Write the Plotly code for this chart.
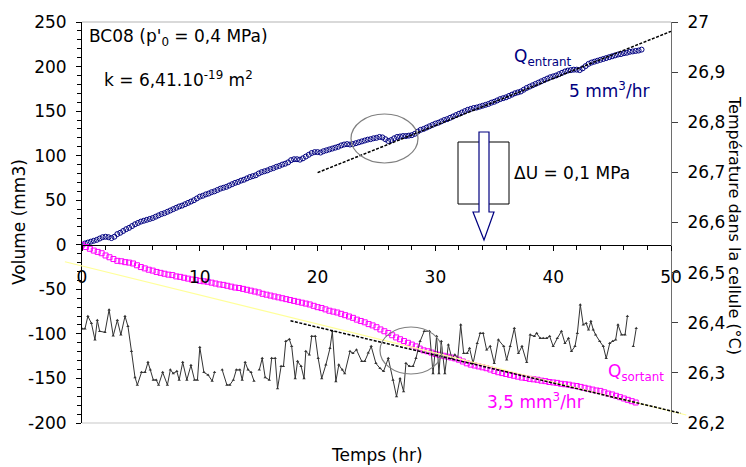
import plotly.graph_objects as go

# ---------------- data ----------------
# Q entrant (mm3), sampled every 0.25 hr from t = 0
q_in_dt = 0.25
q_entrant = [
    0, 1.5, 2.5, 3.5, 4.5, 5.5, 7, 8.5, 9, 8.5, 7.5, 9, 12, 13.5, 15.5, 17.5, 19, 21, 23, 24.5,
    26, 27, 28, 29, 30, 31.5, 33, 34.5, 35.5, 37, 38.5, 40, 41.5, 43, 44, 45.5, 47, 48.5, 50, 52,
    54, 55, 56.5, 57.5, 59, 60, 61.5, 63, 64, 65, 66.5, 68, 69.5, 70.5, 72, 73, 74.5, 76, 77, 78,
    80, 81.5, 82.5, 83.5, 85, 86, 87.5, 88.5, 90, 91, 92.5, 95, 96, 96, 95.5, 97, 99, 101, 103, 104,
    104, 103.5, 105, 106, 107, 108, 109, 110, 111.5, 112.5, 113, 112.5, 113, 114, 115, 116, 117, 118, 118.5, 119.5,
    120, 121, 120.5, 118.5, 116.5, 117.5, 119.5, 121, 121.5, 122, 122, 122.5, 123, 124.5, 127, 129, 130, 131.5, 133, 134.5,
    136, 137, 138.5, 140, 141, 142.5, 144, 145.5, 147, 148.5, 150, 151.5, 152.5, 153.5, 154, 155, 156, 157, 158, 159.5,
    160.5, 162, 163.5, 164.5, 165.5, 167, 168.5, 170, 171, 172, 174, 176, 177.5, 179, 180.5, 182, 183.5, 185, 186.5, 188,
    189, 190, 191.5, 193, 194.5, 195.5, 196, 196.5, 196.5, 196, 198, 200.5, 203, 204.5, 205.5, 206.5, 207.5, 208.5, 209.5, 210.5,
    211.5, 212.5, 213.5, 214, 215, 215.5, 216.5, 217, 217.5, 218, 219,
]
t_entrant = [round(i * q_in_dt, 3) for i in range(len(q_entrant))]

# Q sortant (mm3), sampled every 1/3 hr from t = 0
q_out_dt = 1.0 / 3.0
q_sortant = [
    0, -2.5, -4.5, -6.5, -8, -9.5, -12, -14, -16, -18, -18.5, -19.5, -20, -21, -23,
    -25, -26.5, -28, -29, -30.5, -31.5, -32.5, -33.5, -34, -35.5, -36, -37, -38, -39, -39.5,
    -40.5, -41, -41.5, -42.5, -43.5, -44.5, -45, -46, -47, -48, -48.5, -49.5, -50.5, -51.5, -52.5,
    -53.5, -55, -56, -57, -58, -59, -60, -61, -62, -63, -64, -65, -66, -67, -68.5,
    -70, -71, -72.5, -74, -75, -76, -77.5, -79, -80.5, -82, -84, -85.5, -87, -89, -90.5,
    -92.5, -95, -97, -99, -101.5, -104, -106, -108, -110, -112, -114, -116.5, -118.5, -119.5, -121,
    -122.5, -123.5, -124.5, -125.5, -126.5, -127.5, -129, -131, -133, -134.5, -135.5, -136.5, -137.5, -138.5, -140,
    -141.5, -143, -144, -145, -146, -147, -148, -149, -149.5, -150.5, -151, -151.5, -152.5, -153, -154,
    -154.5, -155, -156, -156.5, -157, -158, -158.5, -159.5, -160.5, -161.5, -162.5, -163.5, -164, -165.5, -167,
    -168, -169.5, -171, -172.5, -174, -175.5, -177,
]
t_sortant = [round(i * q_out_dt, 3) for i in range(len(q_sortant))]

# Temperature in the cell (°C); None = missing reading
t_temp = [
    0, 0.25, 0.5, 0.8, 1.1, 1.3, 1.5, 1.95, 2.3, 2.65, 3.0, 3.3, 3.65, 3.9, 4.2, 4.5, 4.7,
    5.05, 5.35, 5.6, 5.8, 6.05, 6.3, 6.5, 6.85, 7.25, 7.5, 7.75, 8.05, 8.25, 8.55, 8.9,
    9.25, 9.55, 9.8, 10.0, 10.35, 10.7, 11.05, 11.25, 11.6, 11.9, 12.3, 12.55, 12.85, 13.1,
    13.4, 13.6, 13.85, 14.1, 14.35, 14.6, 14.8, 15.05, 15.3, 15.55, 15.9, 16.1, 16.4, 16.6,
    16.9, 17.1, 17.3, 17.6, 17.8, 18.1, 18.3, 18.6, 18.85, 19.0, 19.3, 19.5, 19.8, 20.05,
    20.35, 20.7, 21.05, 21.25, 21.55, 21.8, 22.1, 22.3, 22.75, 23.0, 23.3, 23.75, 24.0, 24.3,
    24.55, 24.95, 25.3, 25.6, 26.0, 26.4, 26.7, 27.0, 27.3, 27.5, 27.8, 28.1, 28.35, 28.7,
    29.05, 29.5, 29.8, 30.1, 30.3, 30.5, 30.8, 31.1, 31.4, 31.65, 31.9, 32.15, 32.4, 32.7,
    32.9, 33.2, 33.55, 33.8, 34.05, 34.35, 34.65, 35.0, 35.35, 35.8, 36.05, 36.35, 36.7,
    37.05, 37.35, 37.75, 38.05, 38.4, 38.6, 38.9, 39.15, 39.45, 39.7, 40.0, 40.35, 40.7,
    41.0, 41.3, 41.55, 41.85, 42.05, 42.3, 42.55, 42.8, 43.0, 43.2, 43.4, 43.6, 43.95,
    44.25, 44.5, 44.8, 45.05, 45.3, 45.5, 45.8, 46.1, 46.3, 46.55, 46.8, 47.05,
]
temp = [
    26.388, 26.388, 26.413, 26.399, 26.366, 26.405, 26.383, 26.381, 26.426, 26.374, 26.405, 26.376, 26.413, 26.393, 26.343, 26.291, 26.276,
    26.301, 26.301, 26.321, 26.306, 26.286, 26.286, 26.276, 26.301, 26.276, 26.306, 26.299, 26.303, 26.286, 26.321, 26.286,
    26.315, 26.286, 26.286, 26.351, 26.301, 26.296, 26.284, 26.301, None, 26.306, 26.276, 26.276, 26.286, 26.306,
    26.306, 26.286, 26.321, 26.306, 26.301, 26.284, None, 26.306, 26.329, 26.291, 26.286, 26.329, 26.329, 26.269,
    26.313, 26.313, 26.363, 26.367, 26.353, 26.289, 26.323, 26.313, 26.289, 26.343, 26.336, 26.373, 26.373, 26.329,
    26.289, 26.316, 26.349, 26.383, 26.283, 26.316, 26.306, 26.299, 26.343, 26.339, 26.346, 26.323, 26.323, 26.340,
    26.353, 26.319, 26.309, 26.303, 26.329, 26.286, 26.253, 26.289, 26.263, 26.319, 26.313, 26.313, 26.329, 26.363,
    26.383, 26.383, 26.299, 26.373, 26.299, 26.363, 26.299, 26.356, 26.329, 26.336, 26.329, 26.396, 26.339, 26.339,
    26.349, 26.319, 26.359, 26.379, 26.379, 26.346, 26.353, 26.319, 26.366, 26.353, 26.326, 26.353, 26.389,
    26.339, 26.353, 26.321, 26.376, 26.373, 26.379, 26.369, 26.369, 26.369, 26.373, 26.353, 26.369, 26.383,
    26.359, 26.369, 26.343, 26.353, 26.379, 26.436, 26.396, 26.399, 26.386, 26.403, 26.386, 26.376, 26.363,
    26.353, 26.329, 26.359, 26.363, 26.366, 26.396, 26.376, 26.376, 26.413, None, 26.353, 26.389,
]

# Fitted trend lines (hr, mm3)
trend_in_t = [20.0, 50.0]
trend_in_v = [81.0, 239.5]
trend_out_t = [17.7, 50.8]
trend_out_v = [-85.3, -188.9]
yellow_t = [-1.45, 51.3]
yellow_v = [-19.0, -191.0]

# axis ticks
x_ticks = [0, 10, 20, 30, 40, 50]
y_ticks = [-200, -150, -100, -50, 0, 50, 100, 150, 200, 250]
y_ticktext = ["-200", "-150", "-100", "-50", "0", "50", "100", "150", "200", "250"]
y2_ticks = [26.2, 26.3, 26.4, 26.5, 26.6, 26.7, 26.8, 26.9, 27.0]
y2_ticktext = ["26,2", "26,3", "26,4", "26,5", "26,6", "26,7", "26,8", "26,9", "27"]

# ---------------- layout geometry ----------------
W, H = 746, 467
ML, MR, MT, MB = 62, 55, 22, 44
PX0, PX1 = 82, 671          # main plot area left/right (px)
X_RANGE = [0, 50]
Y_RANGE = [-200, 250]
Y2_RANGE = [26.2, 27.0]
PW = W - ML - MR


def xp(px):
    return (px - ML) / PW


def yp(py):
    return 1 - (py - MT) / (H - MT - MB)


xscale = (X_RANGE[1] - X_RANGE[0]) / (PX1 - PX0)
x2_range = [X_RANGE[0] + (ML - PX0) * xscale, X_RANGE[1] + (W - MR - PX1) * xscale]
zero_pos = (0 - Y_RANGE[0]) / (Y_RANGE[1] - Y_RANGE[0])

FONT = "DejaVu Sans"
NAVY = "#000080"
MAG = "#ff00ff"

fig = go.Figure()

fig.add_trace(go.Scatter(x=yellow_t, y=yellow_v, mode="lines", xaxis="x2", yaxis="y",
                         line=dict(color="#ffff99", width=1.2), hoverinfo="skip"))
fig.add_trace(go.Scatter(x=t_entrant, y=q_entrant, mode="markers", xaxis="x", yaxis="y",
                         marker=dict(symbol="circle-open", size=5, color=NAVY, line=dict(width=1, color=NAVY))))
fig.add_trace(go.Scatter(x=t_sortant, y=q_sortant, mode="markers", xaxis="x", yaxis="y",
                         marker=dict(symbol="square-open", size=5, color=MAG, line=dict(width=1, color=MAG))))
fig.add_trace(go.Scatter(x=t_temp, y=temp, mode="lines+markers", xaxis="x", yaxis="y2",
                         line=dict(color="#333333", width=1),
                         marker=dict(symbol="triangle-up", size=3, color="#333333"),
                         connectgaps=False))
fig.add_trace(go.Scatter(x=trend_in_t, y=trend_in_v, mode="lines", xaxis="x2", yaxis="y",
                         line=dict(color="black", width=1.5, dash="3px,1.5px"), hoverinfo="skip"))
fig.add_trace(go.Scatter(x=trend_out_t, y=trend_out_v, mode="lines", xaxis="x2", yaxis="y",
                         line=dict(color="black", width=1.5, dash="3px,1.5px"), hoverinfo="skip"))

tickfont = dict(family=FONT, size=17, color="black")

fig.update_layout(
    width=W, height=H,
    margin=dict(l=ML, r=MR, t=MT, b=MB, pad=0),
    paper_bgcolor="white", plot_bgcolor="rgba(0,0,0,0)",
    showlegend=False,
    font=dict(family=FONT, size=17, color="black"),
    xaxis=dict(
        domain=[xp(PX0), xp(PX1)], range=X_RANGE, anchor="free", position=zero_pos,
        showgrid=False, zeroline=False, showline=True, linecolor="black", linewidth=1,
        tickmode="array", tickvals=x_ticks, ticks="outside", ticklen=5, tickcolor="black",
        tickfont=tickfont, ticklabelstandoff=12,
        minor=dict(tickmode="array", tickvals=list(range(0, 51, 2)), ticks="outside", ticklen=4, tickcolor="black"),
    ),
    xaxis2=dict(domain=[0, 1], range=x2_range, anchor="y", visible=False, showgrid=False, zeroline=False),
    yaxis=dict(
        domain=[0, 1], range=Y_RANGE, anchor="x",
        showgrid=False, zeroline=False, showline=True, linecolor="black", linewidth=1,
        tickmode="array", tickvals=y_ticks, ticktext=y_ticktext, ticks="outside", ticklen=5,
        tickcolor="black", tickfont=tickfont, ticklabelstandoff=6,
        minor=dict(tickmode="array", tickvals=list(range(-200, 251, 10)), ticks="outside", ticklen=4, tickcolor="black"),
    ),
    yaxis2=dict(
        range=Y2_RANGE, overlaying="y", side="right", anchor="x",
        showgrid=False, zeroline=False, showline=True, linecolor="#6e6e6e", linewidth=1.3,
        tickmode="array", tickvals=y2_ticks, ticktext=y2_ticktext, ticks="outside", ticklen=6,
        tickcolor="#404040", tickfont=tickfont, ticklabelstandoff=6,
    ),
    yaxis3=dict(
        range=Y2_RANGE, overlaying="y", side="right", anchor="x",
        showgrid=False, zeroline=False, showline=False,
        tickmode="array", tickvals=y2_ticks, ticks="inside", ticklen=6, tickcolor="#404040",
        showticklabels=False,
    ),
)

shapes = [
    # frame top & bottom
    dict(type="line", xref="paper", yref="paper", x0=xp(PX0), x1=xp(PX1), y0=1, y1=1,
         line=dict(color="#b4b4b4", width=1.2)),
    dict(type="line", xref="paper", yref="paper", x0=xp(PX0), x1=xp(PX1), y0=0, y1=0,
         line=dict(color="#c8c8c8", width=1.2)),
    # ellipses
    dict(type="circle", xref="paper", yref="paper", x0=xp(351), x1=xp(418), y0=yp(163), y1=yp(114),
         line=dict(color="#7f7f7f", width=1.2)),
    dict(type="circle", xref="paper", yref="paper", x0=xp(380), x1=xp(442), y0=yp(374), y1=yp(327),
         line=dict(color="#7f7f7f", width=1.2)),
    # rectangle
    dict(type="rect", xref="paper", yref="paper", x0=xp(458), x1=xp(509), y0=yp(204), y1=yp(142),
         line=dict(color="black", width=1)),
]
arrow_pts = [(479, 132), (489, 132), (489, 212), (494, 212), (484, 240), (473, 212), (479, 212)]
path = "M " + " L ".join(f"{xp(a):.5f},{yp(b):.5f}" for a, b in arrow_pts) + " Z"
shapes.append(dict(type="path", xref="paper", yref="paper", path=path,
                   fillcolor="white", line=dict(color=NAVY, width=1.2), layer="above"))
fig.update_layout(shapes=shapes)


def ann(text, px, py, color="black", size=17, xanchor="left", angle=0):
    fig.add_annotation(text=text, x=xp(px), y=yp(py), xref="paper", yref="paper",
                       showarrow=False, xanchor=xanchor, yanchor="middle", textangle=angle,
                       font=dict(family=FONT, size=size, color=color))


ann("BC08 (p'<sub>0</sub> = 0,4 MPa)", 87, 37)
ann("k = 6,41.10<sup>-19</sup> m<sup>2</sup>", 102, 79)
ann("Q<sub>entrant</sub>", 512, 58, color=NAVY)
ann("5 mm<sup>3</sup>/hr", 567, 90, color=NAVY)
ann("ΔU = 0,1 MPa", 512, 173)
ann("Q<sub>sortant</sub>", 606, 372, color=MAG)
ann("3,5 mm<sup>3</sup>/hr", 485, 401, color=MAG)
ann("Volume (mm3)", 19, 222, xanchor="center", angle=-90)
ann("Temps (hr)", 377, 455, xanchor="center")
ann("Température dans la cellule (°C)", 735, 225, xanchor="center", angle=90, size=16)

fig.write_html("out.html", config={"displayModeBar": False},
               post_script="document.body.style.margin='0';")
